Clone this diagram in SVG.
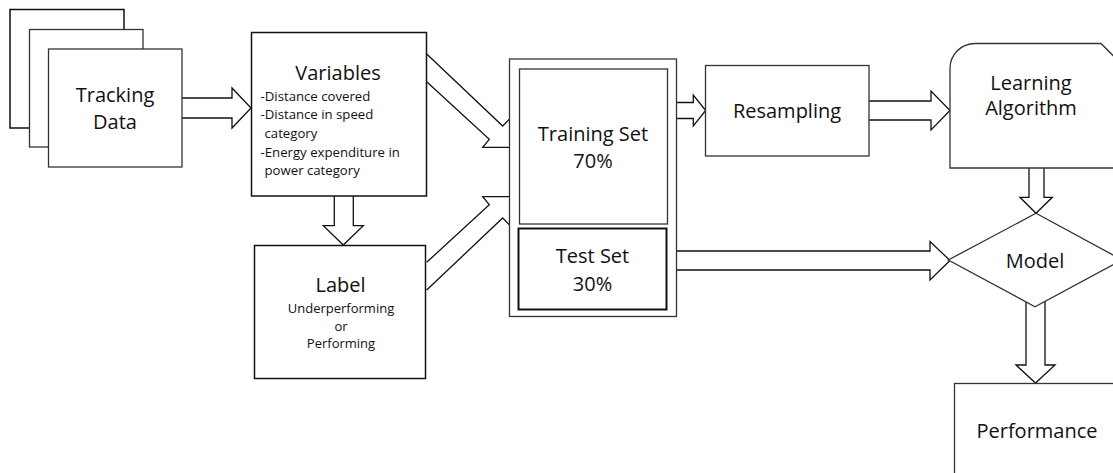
<svg xmlns="http://www.w3.org/2000/svg" width="1113" height="473" viewBox="0 0 1113 473">
<style>
.box{fill:#fff;stroke:#333;stroke-width:1.3}
.dark{fill:#fff;stroke:#111;stroke-width:1.5}
.thick{fill:#fff;stroke:#111;stroke-width:2}
.arr{fill:#fff;stroke:#111;stroke-width:1.3;stroke-linejoin:miter}
text{font-family:"Open Sans","Liberation Sans",sans-serif;fill:#111}
.t20{font-size:20px;text-anchor:middle}
.t13{font-size:13.2px}
.t13c{font-size:13px;text-anchor:middle}
</style>
<rect width="1113" height="473" fill="#fff"/>
<g id="connectors">
<path class="arr" d="M182,98 H232 V88 L251,108 L232,128 V118 H182"/>
<path class="arr" d="M334.3,196 V225.7 H323.3 L343.3,245 L363.3,225.7 H353.3 V196"/>
<path class="arr" d="M426.7,54 L502.7,126 L510.1,118.6 L510.1,147.3 L482.7,147.3 L489.3,139.3 L426.7,81.7"/>
<path class="arr" d="M426.7,290 L502.7,218 L510.1,225.4 L510.1,196.7 L482.7,196.7 L489.3,204.7 L426.7,262.3"/>
<path class="arr" d="M677,102.5 H693.3 V95 L705.7,110.5 L693.3,126 V118.5 H677"/>
<path class="arr" d="M869,101 H931 V91 L950,110.5 L931,130 V120 H869"/>
<path class="arr" d="M677,251 H930 V241.5 L950,260.5 L930,280 V270 H677"/>
<path class="arr" d="M1029,168 V197.3 H1020 L1036,213.3 L1052.3,197.3 H1044 V168"/>
<path class="arr" d="M1026,290 V365 H1016 L1035.5,383 L1055,365 H1045 V290"/>
</g>
<g id="tracking-data">
<rect x="10" y="9.5" width="114" height="118.5" class="dark"/>
<rect x="29.5" y="29.5" width="113.5" height="117.5" class="box"/>
<rect x="48.5" y="49" width="133.5" height="118" class="box"/>
<text class="t20" x="115" y="102">Tracking</text>
<text class="t20" x="115" y="129">Data</text>
</g>
<g id="variables">
<rect x="251.5" y="32.5" width="175" height="163.5" class="dark"/>
<text class="t20" x="338" y="80">Variables</text>
<text class="t13" x="260.5" y="101">-Distance covered</text>
<text class="t13" x="260.5" y="119.3">-Distance in speed</text>
<text class="t13" x="264.5" y="137.5">category</text>
<text class="t13" x="260.5" y="156.7">-Energy expenditure in</text>
<text class="t13" x="264.5" y="175">power category</text>
</g>
<g id="label">
<rect x="254.5" y="245.5" width="171" height="133" class="dark"/>
<text class="t20" x="340.5" y="291.7">Label</text>
<text class="t13c" x="341" y="313.3">Underperforming</text>
<text class="t13c" x="341" y="330.7">or</text>
<text class="t13c" x="341" y="348.3">Performing</text>
</g>
<g id="dataset-split">
<rect x="509.5" y="59" width="167" height="257.5" class="box"/>
<g id="training-set">
<rect x="519.5" y="69" width="148" height="155" class="box"/>
<text class="t20" x="593" y="140.7">Training Set</text>
<text class="t20" x="593" y="168">70%</text>
</g>
<g id="test-set">
<rect x="518.5" y="228.5" width="148" height="81" class="thick"/>
<text class="t20" x="592.5" y="263">Test Set</text>
<text class="t20" x="592.5" y="290.7">30%</text>
</g>
</g>
<g id="resampling">
<rect x="705.5" y="65.5" width="163.5" height="90.5" class="box"/>
<text class="t20" x="787" y="117.5">Resampling</text>
</g>
<g id="learning-algorithm">
<path class="box" d="M950,168 V68.5 A25,25 0 0 1 975,43.5 H1101 L1125,67.5 V168 Z"/>
<text class="t20" x="1031" y="90">Learning</text>
<text class="t20" x="1031" y="115">Algorithm</text>
</g>
<g id="model">
<polygon class="box" points="1036,213.3 1122,260 1035,306.7 948.3,260"/>
<text class="t20" x="1035" y="268">Model</text>
</g>
<g id="performance">
<rect x="954.5" y="383.5" width="200" height="100" class="box"/>
<text class="t20" x="1037" y="438.3">Performance</text>
</g>
</svg>
